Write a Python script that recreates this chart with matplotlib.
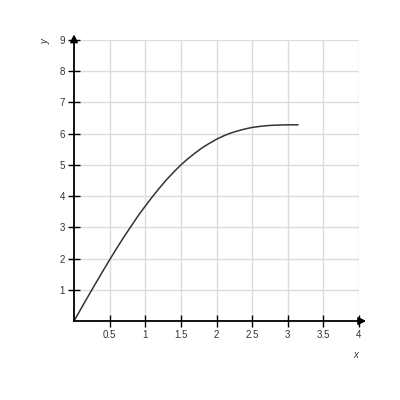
import matplotlib.pyplot as plt
import numpy as np

# points
x_vals = [0.0, 0.1, 0.2, 0.3, 0.4, 0.5, 0.6, 0.7, 0.8, 0.9, 1.0,
          1.1, 1.2, 1.3, 1.4, 1.5, 1.6, 1.7, 1.8, 1.9, 2.0,
          2.1, 2.2, 2.3, 2.4, 2.5, 2.6, 2.7, 2.8, 2.9, 3.0, 3.1, 3.14]
y_vals = [0.0, 0.40, 0.80, 1.19, 1.58, 1.96, 2.33, 2.69, 3.03, 3.37, 3.68,
          3.98, 4.26, 4.53, 4.77, 5.00, 5.20, 5.38, 5.55, 5.69, 5.82,
          5.93, 6.02, 6.09, 6.15, 6.20, 6.23, 6.255, 6.27, 6.278, 6.282, 6.283, 6.283]

x_ticks = [0.5, 1, 1.5, 2, 2.5, 3, 3.5, 4]
x_tick_labels = ['0.5', '1', '1.5', '2', '2.5', '3', '3.5', '4']
y_ticks = [1, 2, 3, 4, 5, 6, 7, 8, 9]
y_tick_labels = [str(v) for v in y_ticks]

plt.rcParams['font.family'] = ['Liberation Sans', 'DejaVu Sans']

fig = plt.figure(figsize=(4, 4), dpi=100)
ax = fig.add_axes([0.185, 0.1975, 0.7125, 0.7025])
ax.set_xlim(0, 4)
ax.set_ylim(0, 9)

# grid
for xv in x_ticks:
    ax.plot([xv, xv], [0, 9], color='#dcdcdc', lw=1, zorder=1)
for yv in y_ticks:
    ax.plot([0, 4], [yv, yv], color='#dcdcdc', lw=1, zorder=1)

ax.plot(x_vals, y_vals, color='#333333', lw=1.1, zorder=3)

for s in ['top', 'right']:
    ax.spines[s].set_visible(False)
for s in ['left', 'bottom']:
    ax.spines[s].set_linewidth(1.3)
    ax.spines[s].set_zorder(4)

ax.set_xticks(x_ticks)
ax.set_xticklabels(x_tick_labels)
ax.set_yticks(y_ticks)
ax.set_yticklabels(y_tick_labels)
ax.tick_params(direction='inout', length=9, width=1, labelsize=7,
               labelcolor='#333333', pad=2)

# axis arrows
ax.annotate('', xy=(4.14, 0), xytext=(3.95, 0),
            arrowprops=dict(arrowstyle='-|>', color='black', lw=1.3,
                            mutation_scale=11),
            annotation_clip=False)
ax.annotate('', xy=(0, 9.27), xytext=(0, 8.9),
            arrowprops=dict(arrowstyle='-|>', color='black', lw=1.3,
                            mutation_scale=11),
            annotation_clip=False)

fig.text(0.115, 0.895, 'y', fontsize=7, style='italic', rotation=90,
         color='#333333', ha='center', va='center')
fig.text(0.89, 0.113, 'x', fontsize=7, style='italic',
         color='#333333', ha='center', va='center')

plt.savefig('out.png', dpi=100)
